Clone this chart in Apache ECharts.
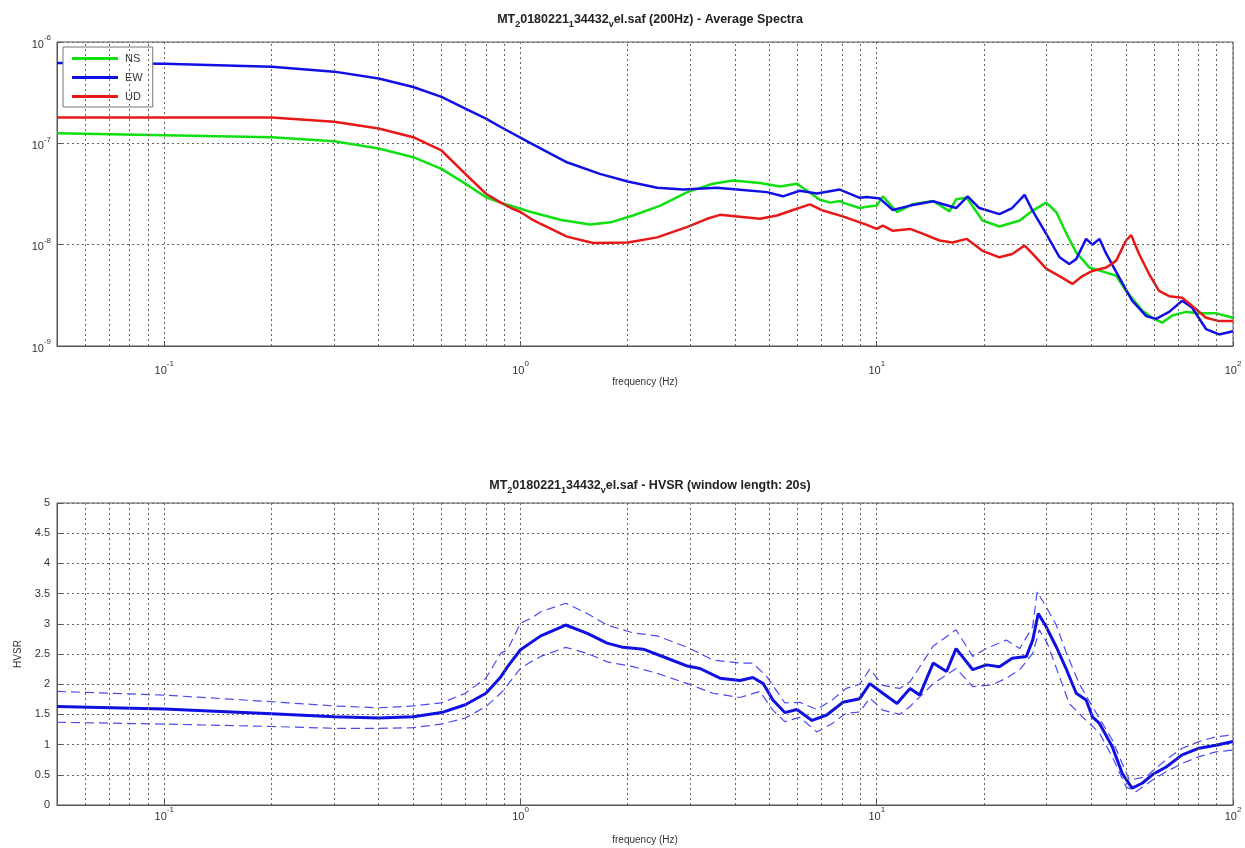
<!DOCTYPE html>
<html>
<head>
<meta charset="utf-8">
<script src="https://cdn.jsdelivr.net/npm/echarts@6/dist/echarts.min.js"></script>
<style>
html,body{margin:0;padding:0;background:#fff;}
#chart{width:1245px;height:848px;}
</style>
</head>
<body>
<div id="chart"></div>
<script>
// ---------- Average spectra (top) ----------
const nsFreq = [0.05,0.2,0.3,0.4,0.5,0.6,0.7,0.8,0.88,1.07,1.3,1.57,1.79,2.07,2.47,2.94,3.47,3.95,4.7,5.35,5.97,6.6,6.92,7.4,7.9,8.03,8.96,9.38,10,10.4,11.4,12.6,14.4,16.0,16.7,17.9,19.8,22.1,25.2,27.4,29.9,31.9,34.1,36.3,39.5,44.1,47.0,50.1,55.6,59.3,63.3,67.5,73.8,80.3,89.6,100];
const nsVal = [1.26e-7,1.15e-7,1.05e-7,8.9e-8,7.3e-8,5.6e-8,4.0e-8,2.94e-8,2.6e-8,2.1e-8,1.75e-8,1.58e-8,1.66e-8,1.94e-8,2.43e-8,3.3e-8,4.0e-8,4.3e-8,4.06e-8,3.75e-8,4.0e-8,3.13e-8,2.77e-8,2.6e-8,2.7e-8,2.6e-8,2.3e-8,2.37e-8,2.43e-8,3.0e-8,2.1e-8,2.5e-8,2.7e-8,2.13e-8,2.8e-8,2.9e-8,1.73e-8,1.51e-8,1.73e-8,2.17e-8,2.6e-8,2.1e-8,1.28e-8,8.4e-9,5.96e-9,5.3e-9,4.93e-9,3.5e-9,2.24e-9,1.9e-9,1.7e-9,2.0e-9,2.17e-9,2.1e-9,2.1e-9,1.9e-9];

const ewFreq = [0.05,0.1,0.2,0.3,0.4,0.5,0.6,0.7,0.8,0.88,1.07,1.35,1.67,2.0,2.42,2.86,3.56,4.05,4.92,5.45,6.08,6.79,7.88,8.96,9.38,10.2,11.1,12.4,14.4,16.7,18.0,19.4,22.1,24.0,26.0,27.4,29.9,32.6,34.7,36.3,38.7,40.3,42.2,44.1,48.0,52.1,57.0,60.8,66.2,72.0,76.7,84.0,91.4,100];
const ewVal = [6.2e-7,6.1e-7,5.7e-7,5.1e-7,4.37e-7,3.6e-7,2.87e-7,2.2e-7,1.75e-7,1.45e-7,1.0e-7,6.5e-8,5.0e-8,4.2e-8,3.64e-8,3.5e-8,3.64e-8,3.5e-8,3.3e-8,3.0e-8,3.4e-8,3.2e-8,3.5e-8,2.9e-8,2.95e-8,2.85e-8,2.2e-8,2.43e-8,2.68e-8,2.3e-8,3.0e-8,2.3e-8,2.0e-8,2.3e-8,3.1e-8,2.15e-8,1.28e-8,7.5e-9,6.45e-9,7.2e-9,1.14e-8,1.0e-8,1.14e-8,8.1e-9,4.7e-9,2.8e-9,1.98e-9,1.85e-9,2.17e-9,2.8e-9,2.4e-9,1.47e-9,1.3e-9,1.4e-9];

const udFreq = [0.05,0.2,0.3,0.4,0.5,0.6,0.7,0.8,0.88,0.94,1.0,1.07,1.14,1.35,1.6,2.0,2.42,2.94,3.34,3.63,4.13,4.7,5.25,5.82,6.49,7.06,8.03,9.38,10,10.4,11.1,12.4,13.5,15.0,16.3,17.9,19.8,22.1,24.0,26.0,27.4,29.9,33.2,35.4,37.8,40.3,44.1,47.0,50.1,51.8,54.5,58.2,62.0,66.2,72.0,76.7,84.0,91.4,100];
const udVal = [1.8e-7,1.8e-7,1.63e-7,1.4e-7,1.15e-7,8.5e-8,5.0e-8,3.18e-8,2.6e-8,2.3e-8,2.1e-8,1.8e-8,1.6e-8,1.2e-8,1.04e-8,1.05e-8,1.18e-8,1.5e-8,1.8e-8,1.97e-8,1.89e-8,1.8e-8,1.94e-8,2.2e-8,2.5e-8,2.17e-8,1.9e-8,1.57e-8,1.43e-8,1.54e-8,1.37e-8,1.43e-8,1.28e-8,1.1e-8,1.05e-8,1.14e-8,8.7e-9,7.5e-9,8.1e-9,9.8e-9,8.1e-9,5.8e-9,4.7e-9,4.1e-9,4.9e-9,5.5e-9,5.96e-9,6.96e-9,1.1e-8,1.24e-8,8.1e-9,5.1e-9,3.5e-9,3.1e-9,3.0e-9,2.5e-9,1.9e-9,1.76e-9,1.76e-9];

// ---------- HVSR (bottom) ----------
const hvFreq = [0.05,0.071,0.1,0.2,0.3,0.4,0.5,0.6,0.7,0.8,0.88,0.92,1.0,1.14,1.34,1.54,1.75,1.94,2.21,2.58,2.94,3.19,3.63,4.13,4.49,4.8,5.11,5.52,5.97,6.58,7.24,8.03,8.96,9.56,10.4,11.4,12.4,13.2,14.4,15.7,16.7,18.6,20.3,22.1,24.0,26.3,27.4,28.4,29.9,31.9,34.1,36.3,38.7,40.3,42.2,45.8,48.9,52.1,55.6,59.3,64.9,72.0,80.3,89.6,100];
const hvVal = [1.63,1.61,1.59,1.51,1.46,1.44,1.46,1.53,1.66,1.85,2.12,2.29,2.57,2.80,2.98,2.84,2.68,2.61,2.58,2.43,2.30,2.26,2.10,2.06,2.11,2.01,1.74,1.53,1.58,1.40,1.49,1.70,1.76,2.01,1.85,1.68,1.93,1.82,2.35,2.21,2.59,2.24,2.32,2.29,2.43,2.46,2.73,3.17,2.95,2.62,2.24,1.85,1.74,1.46,1.35,0.97,0.52,0.28,0.36,0.50,0.63,0.83,0.94,0.99,1.05];

const hvUpFreq = [0.05,0.1,0.2,0.3,0.4,0.5,0.6,0.7,0.8,0.88,0.92,1.0,1.07,1.14,1.34,1.54,1.75,2.07,2.42,2.94,3.47,4.13,4.49,4.92,5.52,6.08,6.79,7.5,8.2,8.96,9.56,10.4,11.6,12.4,14.4,16.7,18.6,20.3,23.1,25.2,27.4,28.2,29.9,31.9,34.1,37.0,40.3,45.8,51.2,57.0,64.9,72.0,80.3,89.6,100];
const hvUpVal = [1.88,1.82,1.71,1.64,1.61,1.64,1.69,1.85,2.10,2.51,2.57,3.01,3.09,3.20,3.34,3.17,2.98,2.85,2.80,2.61,2.40,2.35,2.35,2.12,1.69,1.70,1.58,1.74,1.93,2.00,2.25,1.98,1.93,2.04,2.63,2.90,2.46,2.59,2.73,2.59,2.95,3.53,3.28,2.98,2.51,2.01,1.63,1.08,0.41,0.47,0.75,0.94,1.05,1.13,1.16];

const hvLoFreq = [0.05,0.1,0.2,0.3,0.4,0.5,0.6,0.7,0.8,0.88,0.92,1.0,1.07,1.14,1.34,1.54,1.75,2.07,2.42,2.94,3.47,4.13,4.70,5.11,5.52,6.08,6.79,7.5,8.2,8.96,9.56,10.4,11.6,12.4,14.4,16.7,18.6,21.1,23.1,25.2,27.4,28.6,30.1,32.6,34.7,37.8,42.2,45.8,50.1,53.4,59.3,64.9,72.0,80.3,89.6,100];
const hvLoVal = [1.37,1.34,1.30,1.27,1.27,1.28,1.34,1.44,1.63,1.85,1.99,2.26,2.37,2.46,2.61,2.51,2.37,2.29,2.18,2.01,1.85,1.78,1.88,1.57,1.38,1.45,1.21,1.35,1.52,1.54,1.77,1.57,1.50,1.63,2.01,2.26,1.96,1.99,2.10,2.24,2.51,2.90,2.68,2.12,1.68,1.46,1.19,0.80,0.30,0.22,0.41,0.55,0.69,0.80,0.88,0.91];

const seriesNames = ['NS','EW','UD'];
const titleTop = '{n|MT}{s|2}{n|0180221}{s|1}{n|34432}{s|v}{n|el.saf (200Hz) - Average Spectra}';
const titleBottom = '{n|MT}{s|2}{n|0180221}{s|1}{n|34432}{s|v}{n|el.saf - HVSR (window length: 20s)}';
const xName = 'frequency (Hz)';
const yNameBottom = 'HVSR';

function zip(f, v){ return f.map((x,i)=>[x, v[i]]); }

// minor log grid positions (2..9 x 10^n)
function minorLines(lo, hi, key){
  const out = [];
  for (let e = Math.floor(Math.log10(lo)); e <= Math.ceil(Math.log10(hi)); e++){
    for (let k = 2; k <= 9; k++){
      const v = k * Math.pow(10, e);
      if (v > lo * 1.0001 && v < hi * 0.9999) out.push({[key]: v});
    }
  }
  return out;
}

const FONT = '"Liberation Sans", Arial, sans-serif';
const TXT = '#333';
const GRIDCOL = '#666';
const DOT = [2, 3];

function isPow10(v){ const l = Math.log10(v); return Math.abs(l - Math.round(l)) < 1e-6; }
function powLabel(v){
  if (!isPow10(v)) return '';
  return '{b|10}{s|' + Math.round(Math.log10(v)) + '}';
}
const powRich = {
  b: {fontSize: 11, lineHeight: 16, verticalAlign: 'bottom', color: TXT, fontFamily: FONT},
  s: {fontSize: 8, lineHeight: 6, verticalAlign: 'top', color: TXT, fontFamily: FONT}
};
const titleRich = {
  n: {fontSize: 12.5, fontWeight: 'bold', lineHeight: 18, color: '#222', fontFamily: FONT},
  s: {fontSize: 9, fontWeight: 'bold', lineHeight: 8, verticalAlign: 'bottom', color: '#222', fontFamily: FONT}
};

function xAxisCfg(gridIndex, nameGap, labelMargin){
  return {
    type: 'log', gridIndex, min: 0.05, max: 100, logBase: 10,
    name: xName, nameLocation: 'middle', nameGap,
    nameTextStyle: {fontSize: 10, color: TXT, fontFamily: FONT},
    axisLine: {show: true, lineStyle: {color: '#555'}},
    axisTick: {show: true, inside: true, length: 5, lineStyle: {color: '#555'}},
    axisLabel: {formatter: powLabel, rich: powRich, margin: labelMargin, showMinLabel: false},
    splitLine: {show: true, lineStyle: {color: GRIDCOL, type: DOT, width: 1}},
    minorTick: {show: false}
  };
}

const option = {
  animation: false,
  backgroundColor: '#fff',
  textStyle: {fontFamily: FONT},
  title: [
    {text: titleTop, left: 645, top: 6, textAlign: 'center', textStyle: {rich: titleRich}},
    {text: titleBottom, left: 645, top: 472, textAlign: 'center', textStyle: {rich: titleRich}}
  ],
  legend: {
    data: seriesNames, orient: 'vertical', left: 63, top: 47,
    padding: [6, 10, 5, 9], itemGap: 8, itemWidth: 46, itemHeight: 3,
    icon: 'rect', backgroundColor: '#fff', borderColor: '#777', borderWidth: 1, borderRadius: 0,
    textStyle: {fontSize: 11, color: TXT, fontFamily: FONT, padding: [0,0,0,2]}
  },
  grid: [
    {left: 57, top: 42, width: 1176, height: 304, show: true, borderColor: '#555', borderWidth: 1, backgroundColor: 'transparent'},
    {left: 57, top: 503, width: 1176, height: 302, show: true, borderColor: '#555', borderWidth: 1, backgroundColor: 'transparent'}
  ],
  xAxis: [ xAxisCfg(0, 31, 14), xAxisCfg(1, 30, 1) ],
  yAxis: [
    {
      type: 'log', gridIndex: 0, min: 1e-9, max: 1e-6, logBase: 10,
      axisLine: {show: true, lineStyle: {color: '#555'}},
      axisTick: {show: true, inside: true, length: 5, lineStyle: {color: '#555'}},
      axisLabel: {formatter: powLabel, rich: powRich, margin: 6},
      splitLine: {show: true, lineStyle: {color: GRIDCOL, type: DOT, width: 1}}
    },
    {
      type: 'value', gridIndex: 1, min: 0, max: 5, interval: 0.5,
      name: yNameBottom, nameLocation: 'middle', nameGap: 34,
      nameTextStyle: {fontSize: 10, color: TXT, fontFamily: FONT},
      axisLine: {show: true, lineStyle: {color: '#555'}},
      axisTick: {show: true, inside: true, length: 5, lineStyle: {color: '#555'}},
      axisLabel: {fontSize: 11, color: TXT, margin: 7, fontFamily: FONT},
      splitLine: {show: true, lineStyle: {color: GRIDCOL, type: DOT, width: 1}}
    }
  ],
  series: [
    // minor grid helpers
    {
      type: 'line', xAxisIndex: 0, yAxisIndex: 0, data: [[1, 1e-7]], symbol: 'none',
      lineStyle: {opacity: 0}, silent: true, z: 1, legendHoverLink: false,
      markLine: {
        silent: true, symbol: ['none','none'], label: {show: false}, animation: false,
        lineStyle: {color: GRIDCOL, type: DOT, width: 1},
        data: minorLines(0.05, 100, 'xAxis').concat(minorLines(1e-9, 1e-6, 'yAxis'))
      }
    },
    {
      type: 'line', xAxisIndex: 1, yAxisIndex: 1, data: [[1, 1]], symbol: 'none',
      lineStyle: {opacity: 0}, silent: true, z: 1,
      markLine: {
        silent: true, symbol: ['none','none'], label: {show: false}, animation: false,
        lineStyle: {color: GRIDCOL, type: DOT, width: 1},
        data: minorLines(0.05, 100, 'xAxis')
      }
    },
    {name: 'NS', type: 'line', xAxisIndex: 0, yAxisIndex: 0, data: zip(nsFreq, nsVal), symbol: 'none', z: 3,
      lineStyle: {color: '#10e010', width: 2.5}, itemStyle: {color: '#10e010'}},
    {name: 'EW', type: 'line', xAxisIndex: 0, yAxisIndex: 0, data: zip(ewFreq, ewVal), symbol: 'none', z: 3,
      lineStyle: {color: '#1010e6', width: 2.5}, itemStyle: {color: '#1010e6'}},
    {name: 'UD', type: 'line', xAxisIndex: 0, yAxisIndex: 0, data: zip(udFreq, udVal), symbol: 'none', z: 3,
      lineStyle: {color: '#e81818', width: 2.5}, itemStyle: {color: '#e81818'}},
    {name: 'HVSR+', type: 'line', xAxisIndex: 1, yAxisIndex: 1, data: zip(hvUpFreq, hvUpVal), symbol: 'none', z: 3,
      lineStyle: {color: '#4b4bf0', width: 1.2, type: [9, 5]}},
    {name: 'HVSR-', type: 'line', xAxisIndex: 1, yAxisIndex: 1, data: zip(hvLoFreq, hvLoVal), symbol: 'none', z: 3,
      lineStyle: {color: '#4b4bf0', width: 1.2, type: [9, 5]}},
    {name: 'HVSR', type: 'line', xAxisIndex: 1, yAxisIndex: 1, data: zip(hvFreq, hvVal), symbol: 'none', z: 4,
      lineStyle: {color: '#1010e0', width: 3}}
  ]
};

const chart = echarts.init(document.getElementById('chart'), null, {renderer: 'canvas'});
chart.setOption(option);
</script>
</body>
</html>
